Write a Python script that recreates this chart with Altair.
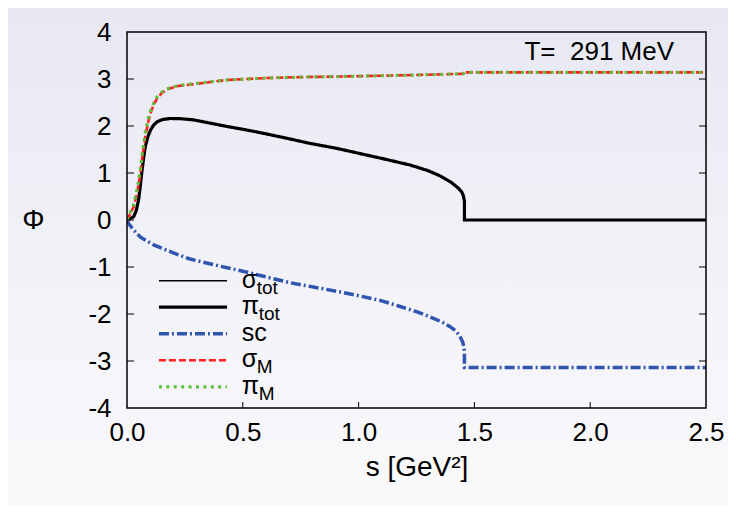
import altair as alt
import pandas as pd

# ---------------- data ----------------
s_M = [0, 0.007, 0.029, 0.045, 0.058, 0.068, 0.079, 0.09, 0.101, 0.115, 0.13, 0.15, 0.173,
       0.22, 0.288, 0.432, 0.6, 0.75, 1.0, 1.2, 1.45, 1.46, 2.5]
sigma_M = [0, 0.07, 0.28, 0.60, 0.99, 1.40, 1.77, 2.05, 2.27, 2.45, 2.59, 2.70, 2.78,
           2.85, 2.89, 2.98, 3.02, 3.04, 3.06, 3.08, 3.11, 3.14, 3.14]
pi_M = [0, 0.09, 0.33, 0.68, 1.09, 1.50, 1.86, 2.12, 2.32, 2.49, 2.62, 2.72, 2.79,
        2.86, 2.90, 2.98, 3.02, 3.04, 3.06, 3.08, 3.11, 3.14, 3.14]

s_tot = [0, 0.01, 0.029, 0.04, 0.05, 0.058, 0.065, 0.072, 0.079, 0.09, 0.101, 0.115, 0.13,
         0.155, 0.187, 0.23, 0.288, 0.35, 0.432, 0.5, 0.574, 0.68, 0.79, 0.9, 1.0, 1.1, 1.222,
         1.3, 1.351, 1.4, 1.43, 1.445, 1.452, 1.457, 1.457, 2.5]
pi_tot = [0, 0.02, 0.07, 0.20, 0.43, 0.75, 1.06, 1.33, 1.56, 1.77, 1.91, 2.02, 2.09,
          2.14, 2.16, 2.155, 2.13, 2.07, 1.99, 1.93, 1.86, 1.75, 1.63, 1.53, 1.42, 1.31, 1.17,
          1.05, 0.94, 0.80, 0.68, 0.60, 0.52, 0.40, 0, 0]
sigma_tot = list(pi_tot)

s_sc = [0, 0.006, 0.028, 0.057, 0.09, 0.115, 0.16, 0.2, 0.272, 0.4, 0.5, 0.7, 0.92, 1.0,
        1.1, 1.179, 1.25, 1.308, 1.36, 1.395, 1.42, 1.438, 1.45, 1.455, 1.457, 1.457, 2.5]
sc = [0, -0.07, -0.21, -0.36, -0.46, -0.53, -0.62, -0.70, -0.83, -0.98, -1.09, -1.33, -1.53, -1.61,
      -1.72, -1.84, -1.95, -2.06, -2.17, -2.27, -2.36, -2.48, -2.60, -2.72, -2.80, -3.14, -3.14]

series_keys = ["sigma_tot", "pi_tot", "sc", "sigma_M", "pi_M"]
legend_symbols = ["σ", "π", "sc", "σ", "π"]
legend_subs = ["tot", "tot", "", "M", "M"]
x_ticks = [0.0, 0.5, 1.0, 1.5, 2.0, 2.5]
y_ticks = [-4, -3, -2, -1, 0, 1, 2, 3, 4]
annotation = "T=\u00a0 291 MeV"

# ---------------- styles ----------------
colors = ["#000000", "#000000", "#2f55ae", "#ff2020", "#5cc03a"]
widths = [1.5, 3.2, 3.5, 2.6, 3.2]
dashes = [[1, 0], [1, 0], [10, 3, 2, 3], [7, 3], [3, 4.4]]
sub_dx = [15, 17, 0, 15, 17]
FONT = "Liberation Sans, Arial, Helvetica, sans-serif"

W, H = 579, 376
PAD = {"left": 119, "top": 24, "right": 22, "bottom": 98}

xs = alt.Scale(domain=[0, 2.5], nice=False, zero=False)
ys = alt.Scale(domain=[-4, 4], nice=False, zero=False)

x_axis = alt.Axis(values=x_ticks, format=".1f", ticks=False, domain=False, grid=False,
                  labelFontSize=26, labelPadding=11, labelFont=FONT, labelColor="black",
                  labelFlush=False, title="s [GeV²]", titleFontSize=28, titleFont=FONT,
                  titleFontWeight="normal", titleColor="black", titlePadding=8, zindex=2)
y_axis = alt.Axis(values=y_ticks, ticks=False, domain=False, grid=False,
                  labelExpr="datum.value < 0 ? '-' + abs(datum.value) : '' + datum.value",
                  labelFontSize=26, labelPadding=16, labelFont=FONT, labelColor="black",
                  labelFlush=False, title="Φ", titleFontSize=28, titleFont=FONT,
                  titleFontWeight="normal", titleColor="black", titleAngle=0,
                  titleX=-94, titleY=H / 2, titleAlign="center", titleBaseline="middle",
                  zindex=2)

X = alt.X("s:Q", scale=xs, axis=x_axis)
Y = alt.Y("phi:Q", scale=ys, axis=y_axis)

data = {"sigma_tot": (s_tot, sigma_tot), "pi_tot": (s_tot, pi_tot), "sc": (s_sc, sc),
        "sigma_M": (s_M, sigma_M), "pi_M": (s_M, pi_M)}

one = pd.DataFrame({"a": [0]})
layers = []

# background gradient
bg = alt.Chart(one).mark_rect(
    clip=False,
    fill=alt.Gradient(gradient="linear", x1=0, x2=0, y1=0, y2=1,
                      stops=[alt.GradientStop(color="#e8e8f3", offset=0),
                             alt.GradientStop(color="#fafafc", offset=1)])
).encode(x=alt.value(-PAD["left"]), x2=alt.value(W + PAD["right"]),
         y=alt.value(-PAD["top"]), y2=alt.value(H + PAD["bottom"]))
layers.append(bg)

# curves
for i, key in enumerate(series_keys):
    sv, pv = data[key]
    df = pd.DataFrame({"s": sv, "phi": pv, "i": list(range(len(sv)))})
    layers.append(alt.Chart(df).mark_line(
        clip=True, color=colors[i], strokeWidth=widths[i], strokeDash=dashes[i]
    ).encode(x=X, y=Y, order="i:Q"))

# inward ticks
xt = pd.DataFrame({"s": x_ticks[1:-1]})
layers.append(alt.Chart(xt).mark_rule(color="black", strokeWidth=1).encode(
    x=X, y=alt.value(H), y2=alt.value(H - 6)))
yt = pd.DataFrame({"phi": y_ticks[1:-1]})
layers.append(alt.Chart(yt).mark_rule(color="black", strokeWidth=1).encode(
    y=Y, x=alt.value(0), x2=alt.value(7)))
layers.append(alt.Chart(yt).mark_rule(color="black", strokeWidth=1).encode(
    y=Y, x=alt.value(W), x2=alt.value(W - 7)))

# legend (inside the plot)
LEG_X1, LEG_X2, LEG_TX = 0.138, 0.432, 0.495
LEG_Y0, LEG_DY = -1.29, -0.565
for i, key in enumerate(series_keys):
    yrow = LEG_Y0 + LEG_DY * i
    d = pd.DataFrame({"s": [LEG_X1], "s2": [LEG_X2], "phi": [yrow],
                      "sym": [legend_symbols[i]], "sub": [legend_subs[i]]})
    layers.append(alt.Chart(d).mark_rule(
        color=colors[i], strokeWidth=widths[i], strokeDash=dashes[i]
    ).encode(x=X, x2="s2:Q", y=Y))
    dt = d.assign(s=[LEG_TX])
    layers.append(alt.Chart(dt).mark_text(
        align="left", baseline="alphabetic", fontSize=25, font=FONT, color="black", dy=7
    ).encode(x=X, y=Y, text="sym:N"))
    if legend_subs[i]:
        layers.append(alt.Chart(dt).mark_text(
            align="left", baseline="alphabetic", fontSize=19, font=FONT, color="black",
            dx=sub_dx[i], dy=13
        ).encode(x=X, y=Y, text="sub:N"))

# annotation
ann = pd.DataFrame({"s": [2.362], "phi": [3.40], "t": [annotation]})
layers.append(alt.Chart(ann).mark_text(
    align="right", baseline="alphabetic", fontSize=26, font=FONT, color="black"
).encode(x=X, y=Y, text="t:N"))

# frame
layers.append(alt.Chart(one).mark_rect(
    clip=False, fill="transparent", stroke="black", strokeWidth=1.5
).encode(x=alt.value(0), x2=alt.value(W), y=alt.value(0), y2=alt.value(H)))

chart = alt.layer(*layers).properties(
    width=W, height=H, padding=PAD, autosize=alt.AutoSizeParams(type="none"),
    background="#eeeef6"
).configure_view(stroke=None)

chart.save("out.html", embed_options={"renderer": "svg", "actions": False})
